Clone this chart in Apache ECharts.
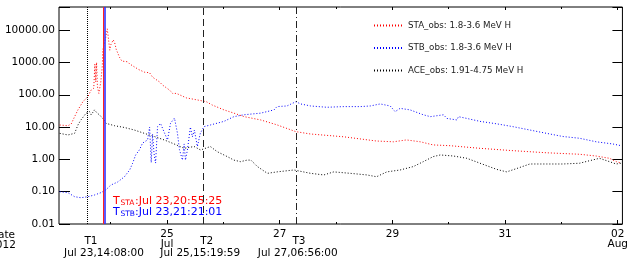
<!DOCTYPE html>
<html>
<head>
<meta charset="utf-8">
<script src="https://cdn.jsdelivr.net/npm/echarts@6/dist/echarts.min.js"></script>
<style>
  html, body { margin: 0; padding: 0; background: #fff; }
  #main { width: 631px; height: 261px; }
</style>
</head>
<body>
<div id="main"></div>
<script>
// time axis in fractional days of July 2012 (32 = Aug 1, 33 = Aug 2)
var staDay = [23.095, 23.242, 23.30, 23.36, 23.419, 23.507, 23.595, 23.654, 23.70, 23.72, 23.735, 23.75, 23.765, 23.79, 23.825, 23.852, 23.86, 23.913, 23.94, 23.954, 23.984, 24.002, 24.046, 24.072, 24.10, 24.161, 24.20, 24.30, 24.337, 24.42, 24.50, 24.60, 24.69, 24.744, 24.867, 24.92, 25.044, 25.10, 25.168, 25.344, 25.521, 25.698, 25.804, 26.011, 26.187, 26.369, 26.664, 26.952, 27.288, 27.548, 28.136, 28.719, 29.019, 29.249, 29.496, 29.726, 30.026, 30.556, 31.14, 31.74, 32.323, 32.618, 32.853, 32.977, 33.065]
var staFlux = [11.6, 11, 12.5, 21, 34, 61, 87, 141, 160, 900, 250, 1000, 180, 110, 250, 800, 2400, 6000, 11000, 12000, 2400, 3500, 5000, 4000, 2500, 1400, 1100, 1050, 900, 730, 600, 500, 480, 350, 250, 200, 140, 110, 110, 80, 70, 61, 48, 34, 27, 21, 16.6, 11.7, 7.2, 6.1, 5, 3.7, 3.5, 4, 3.5, 2.8, 2.65, 2.2, 1.86, 1.6, 1.44, 1.27, 1.08, 0.85, 0.77]

var stbDay = [23.095, 23.242, 23.36, 23.472, 23.595, 23.714, 23.825, 23.913, 24.002, 24.125, 24.244, 24.337, 24.39, 24.443, 24.509, 24.567, 24.655, 24.691, 24.72, 24.744, 24.77, 24.797, 24.832, 24.885, 24.956, 25.009, 25.062, 25.132, 25.185, 25.221, 25.274, 25.304, 25.327, 25.362, 25.415, 25.45, 25.486, 25.539, 25.592, 25.657, 25.769, 26.011, 26.187, 26.364, 26.664, 26.899, 26.952, 27.129, 27.288, 27.371, 27.548, 27.836, 28.136, 28.431, 28.608, 28.784, 28.961, 29.049, 29.138, 29.314, 29.549, 29.673, 29.908, 29.968, 30.145, 30.173, 30.322, 30.556, 30.852, 31.14, 31.44, 31.735, 32.028, 32.323, 32.618, 32.912, 33.06]
var stbFlux = [0.10, 0.093, 0.07, 0.065, 0.07, 0.079, 0.093, 0.113, 0.16, 0.2, 0.29, 0.47, 0.76, 1.37, 1.95, 3.2, 4.0, 10, 0.8, 6, 1.5, 0.77, 10.3, 13, 6.5, 4, 13, 19, 6.5, 2, 0.95, 3, 0.95, 1.95, 10, 5, 8, 2.5, 6.5, 10.3, 11.6, 15, 21, 24, 27, 34, 43, 45, 61, 52, 45, 41, 43, 43, 45, 52, 45, 30, 38, 34, 24, 21, 24, 18.5, 16.6, 21, 18.5, 15, 12.6, 10.3, 8.1, 6.4, 5.1, 4.5, 3.5, 3.0, 2.65]

var aceDay = [23.095, 23.242, 23.36, 23.419, 23.472, 23.565, 23.625, 23.654, 23.714, 23.76, 23.80, 23.86, 23.92, 24.07, 24.244, 24.42, 24.597, 24.774, 24.95, 25.127, 25.304, 25.481, 25.597, 25.769, 25.892, 26.069, 26.187, 26.304, 26.422, 26.488, 26.604, 26.781, 26.952, 27.253, 27.548, 27.783, 27.959, 28.254, 28.548, 28.719, 28.901, 29.138, 29.373, 29.549, 29.726, 29.85, 30.085, 30.322, 30.556, 30.852, 31.028, 31.205, 31.44, 31.735, 32.028, 32.323, 32.50, 32.677, 32.853, 32.972, 33.06]
var aceFlux = [6.4, 5.7, 6.4, 11.6, 16.6, 27, 30, 24, 34, 27, 24, 18.5, 13, 11, 9.7, 8.1, 6.4, 5.1, 4.0, 3.0, 2.2, 2.5, 1.95, 2.5, 1.73, 1.22, 0.95, 0.85, 0.95, 0.95, 0.6, 0.37, 0.41, 0.47, 0.37, 0.33, 0.41, 0.37, 0.33, 0.29, 0.41, 0.47, 0.6, 0.85, 1.22, 1.37, 1.27, 1.08, 0.76, 0.49, 0.41, 0.52, 0.72, 0.72, 0.72, 0.76, 0.91, 1.08, 0.85, 0.72, 0.76]

var seriesNames = ['STA_obs: 1.8-3.6 MeV H', 'STB_obs: 1.8-3.6 MeV H', 'ACE_obs: 1.91-4.75 MeV H']
var seriesColors = ['#ff0000', '#0000ff', '#000000']

var dayTicks = [25, 27, 29, 31, 33]
var dayLabels = ['25\nJul', '27', '29', '31', '02\nAug']
var minorDays = [24, 26, 28, 30, 32]

// event times
var eventNames = ['T1', 'T2', 'T3']
var eventDays = [23.589, 25.639, 27.289]   // Jul 23 14:08, Jul 25 15:20, Jul 27 06:56
var eventTimes = ['Jul 23,14:08:00', 'Jul 25,15:19:59', 'Jul 27,06:56:00']
var staOnset = 23.872   // Jul 23 20:55:25
var stbOnset = 23.890   // Jul 23 21:21:01

var xMin = 23.083, xMax = 33.083
var yMin = 0.01, yMax = 52000
var font = 'DejaVu Sans'

function zip (a, b) {
	return a.map(function (d, i) { return [d, b[i]] })
}
function isDecade (v) {
	var l = Math.log10(v)
	return Math.abs(l - Math.round(l)) < 1e-6
}

function tickAxis (pos, values, len, labels) {
	return {
		type: 'value',
		position: pos,
		min: xMin,
		max: xMax,
		axisLine: { show: false },
		splitLine: { show: false },
		axisTick: {
			show: true,
			inside: true,
			length: len,
			customValues: values,
			lineStyle: { color: '#000', width: 1 }
		},
		axisLabel: labels ? {
			show: true,
			customValues: values,
			margin: 5,
			fontFamily: font,
			fontSize: 10.5,
			lineHeight: 10,
			color: '#000',
			formatter: function (v) {
				var i = dayTicks.indexOf(Math.round(v))
				return i >= 0 ? dayLabels[i] : ''
			}
		} : { show: false }
	}
}

function logAxis (pos, showLabel, len) {
	return {
		type: 'log',
		logBase: 10,
		position: pos,
		min: yMin,
		max: yMax,
		axisLine: { show: false },
		splitLine: { show: false },
		axisTick: { show: true, inside: true, length: len, lineStyle: { color: '#000', width: 1 } },
		axisLabel: {
			show: showLabel,
			margin: 4,
			fontFamily: font,
			fontSize: 10.5,
			color: '#000',
			formatter: function (v) {
				return isDecade(v) ? v.toFixed(2) : ''
			}
		}
	}
}

var lineStyles = [
	{ type: 'dotted', color: '#000', width: 1 },
	{ type: [7, 4], color: '#222', width: 1 },
	{ type: [7, 3, 1, 3], color: '#222', width: 1 }
]
var markData = eventDays.map(function (d, i) {
	return { xAxis: d, lineStyle: lineStyles[i] }
})
markData.push({ xAxis: staOnset, lineStyle: { type: 'solid', color: '#ff2020', width: 1 } })
markData.push({ xAxis: stbOnset, lineStyle: { type: 'solid', color: '#3030ff', width: 1.6 } })

var fluxes = [zip(staDay, staFlux), zip(stbDay, stbFlux), zip(aceDay, aceFlux)]
var series = fluxes.map(function (d, i) {
	var s = {
		name: seriesNames[i],
		type: 'line',
		data: d,
		symbol: 'none',
		color: seriesColors[i],
		lineStyle: { color: seriesColors[i], width: 1, type: [1, 2] },
		z: 3 - i
	}
	if (i === 2) {
		s.markLine = {
			silent: true,
			symbol: ['none', 'none'],
			label: { show: false },
			animation: false,
			data: markData
		}
	}
	return s
})

var graphics = [
	{ type: 'text', x: 2.5, y: 235, style: { text: 'Date', font: '10.5px "DejaVu Sans"', fill: '#000', align: 'center', verticalAlign: 'middle' } },
	{ type: 'text', x: 2.5, y: 245.5, style: { text: '2012', font: '10.5px "DejaVu Sans"', fill: '#000', align: 'center', verticalAlign: 'middle' } }
]
var tNameX = [91, 206.7, 299]
var tTimeX = [104, 200.3, 297.8]
eventNames.forEach(function (n, i) {
	graphics.push({ type: 'text', x: tNameX[i], y: 241.7, style: { text: n, font: '10.5px "DejaVu Sans"', fill: '#000', align: 'center', verticalAlign: 'middle' } })
	graphics.push({ type: 'text', x: tTimeX[i], y: 253.7, style: { text: eventTimes[i], font: '10.5px "DejaVu Sans"', fill: '#000', align: 'center', verticalAlign: 'middle' } })
})
// onset annotations, T with subscript
var onsetRows = [
	{ sub: 'STA', text: ':Jul 23,20:55:25', color: '#ff0000', y: 201 },
	{ sub: 'STB', text: ':Jul 23,21:21:01', color: '#0000ff', y: 212 }
]
onsetRows.forEach(function (r) {
	graphics.push({ type: 'text', x: 113, y: r.y, style: { text: 'T', font: '11px "DejaVu Sans"', fill: r.color, align: 'left', verticalAlign: 'middle' } })
	graphics.push({ type: 'text', x: 120.5, y: r.y + 2.5, style: { text: r.sub, font: '7.5px "DejaVu Sans"', fill: r.color, align: 'left', verticalAlign: 'middle' } })
	graphics.push({ type: 'text', x: 135, y: r.y, style: { text: r.text, font: '11px "DejaVu Sans"', fill: r.color, align: 'left', verticalAlign: 'middle' } })
})

var option = {
	animation: false,
	backgroundColor: '#fff',
	grid: { left: 59, right: 6, top: 7, bottom: 37, show: true, borderColor: '#000', borderWidth: 1, backgroundColor: 'transparent' },
	legend: {
		data: seriesNames,
		orient: 'vertical',
		left: 373,
		top: 21,
		padding: 0,
		itemWidth: 29,
		itemHeight: 10,
		itemGap: 13.5,
		selectedMode: false,
		itemStyle: { opacity: 0 },
		textStyle: { fontFamily: font, fontSize: 8.7, color: '#222' }
	},
	xAxis: [
		tickAxis('bottom', dayTicks, 4, true),
		tickAxis('bottom', minorDays, 2, false),
		tickAxis('top', dayTicks, 3, false),
		tickAxis('top', minorDays, 2, false)
	],
	yAxis: [
		logAxis('left', true, 11),
		logAxis('right', false, 10)
	],
	series: series,
	graphic: graphics
}

var chart = echarts.init(document.getElementById('main'))
chart.setOption(option)
</script>
</body>
</html>
